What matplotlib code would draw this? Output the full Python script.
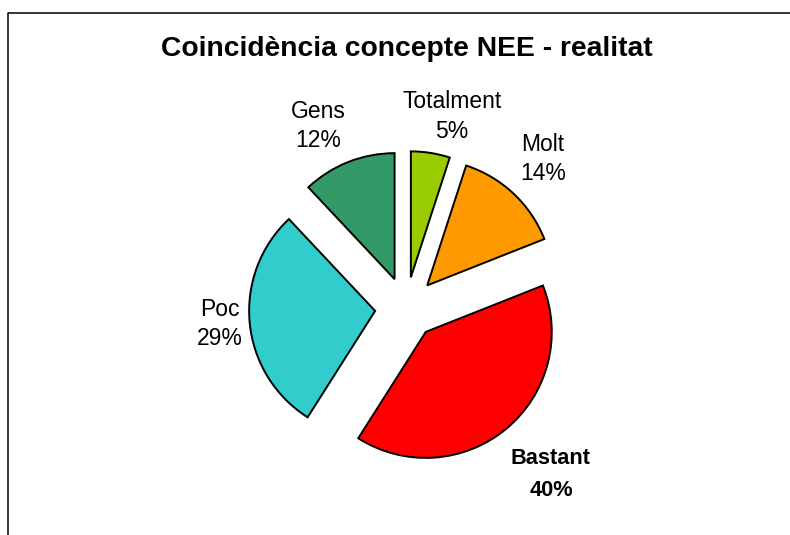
import matplotlib.pyplot as plt
from matplotlib.lines import Line2D

# slices clockwise from 12 o'clock
categories = ["Totalment", "Molt", "Bastant", "Poc", "Gens"]
percentages = [5, 14, 40, 29, 12]
slice_colors = ["#99CC00", "#FF9900", "#FF0000", "#33CCCC", "#339966"]
bold_labels = ["Bastant"]

title = "Coincidència concepte NEE - realitat"

# canvas in pixels (y measured from the top)
W, H = 790, 535
pie_center = (406, 308)
pie_radius = 126
explode_px = 31

# label anchors: x centre, baseline of name, baseline of percent
label_pos = {
    "Totalment": (452, 108, 138),
    "Molt": (543, 151, 180),
    "Bastant": (551, 464, 496),
    "Poc": (220, 316, 345),
    "Gens": (318, 118, 147),
}

plt.rcParams["font.family"] = ["Liberation Sans", "DejaVu Sans"]

fig = plt.figure(figsize=(W / 100, H / 100), dpi=100)
ax = fig.add_axes([0, 0, 1, 1])

ax.pie(
    percentages,
    colors=slice_colors,
    startangle=90,
    counterclock=False,
    radius=pie_radius,
    center=(pie_center[0], H - pie_center[1]),
    explode=[explode_px] * len(percentages),
    wedgeprops=dict(edgecolor="black", linewidth=1.4),
)

ax.set_xlim(0, W)
ax.set_ylim(0, H)
ax.set_aspect("equal")
ax.axis("off")

for name, pct in zip(categories, percentages):
    x, y1, y2 = label_pos[name]
    bold = name in bold_labels
    size = 15.7 if bold else 16.5
    weight = "bold" if bold else "normal"
    ax.text(x, H - y1, name, ha="center", va="baseline", fontsize=size,
            fontweight=weight)
    ax.text(x, H - y2, f"{pct}%", ha="center", va="baseline", fontsize=size,
            fontweight=weight)

ax.text(407, H - 56, title, ha="center", va="baseline", fontsize=20.3,
        fontweight="bold")

# chart area border (left and top edges visible)
fig.add_artist(Line2D([8 / W, 8 / W, 1], [0, 1 - 12.5 / H, 1 - 12.5 / H],
                      transform=fig.transFigure, color="black", linewidth=1.1))

fig.savefig("out.png", dpi=100)
